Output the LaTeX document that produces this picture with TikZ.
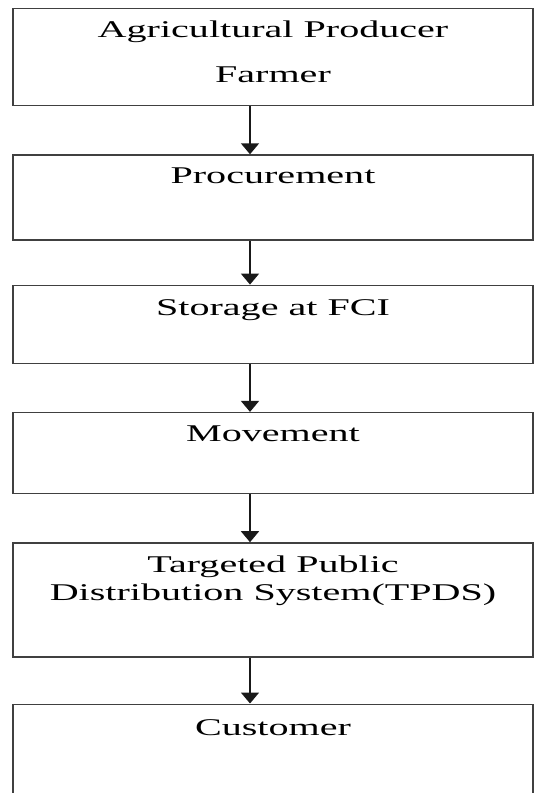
\documentclass[tikz,border=0pt]{standalone}
\usepackage{fontspec}
\setmainfont{Liberation Serif}[FakeStretch=1.67]
\usetikzlibrary{arrows.meta, positioning}
\tikzset{
  every picture/.style={line width=1.3pt},
  stage/.style={draw=black!75, minimum width=520pt, inner xsep=0pt, inner ysep=0pt, align=center, font=\fontsize{24}{28}\selectfont},
  flow/.style={-{Triangle[width=18pt, length=11pt]}, draw=black!90, line width=1.5pt},
}

\begin{document}
\begin{tikzpicture}[x=1pt, y=1pt]
  \clip (0,0) rectangle (534,-793);
  \coordinate (spine) at (250,0);
  \node[stage, anchor=north, text height=74pt, text depth=23pt] (farmer) at (273,-8) {Agricultural Producer\\[17pt]Farmer};
  \node[stage, text height=29pt, text depth=56pt, below=48pt of farmer] (proc) {Procurement};
  \node[stage, text height=30pt, text depth=48pt, below=44pt of proc] (store) {Storage at FCI};
  \node[stage, text height=29pt, text depth=52pt, below=48pt of store] (move) {Movement};
  \node[stage, text height=58pt, text depth=56pt, below=48pt of move] (tpds) {Targeted Public\\Distribution System(TPDS)};
  \node[stage, text height=31pt, text depth=90pt, below=46pt of tpds] (cust) {Customer};
  \draw[flow] (farmer.south -| spine) -- (proc.north -| spine);
  \draw[flow] (proc.south -| spine) -- (store.north -| spine);
  \draw[flow] (store.south -| spine) -- (move.north -| spine);
  \draw[flow] (move.south -| spine) -- (tpds.north -| spine);
  \draw[flow] (tpds.south -| spine) -- (cust.north -| spine);
\end{tikzpicture}
\end{document}
